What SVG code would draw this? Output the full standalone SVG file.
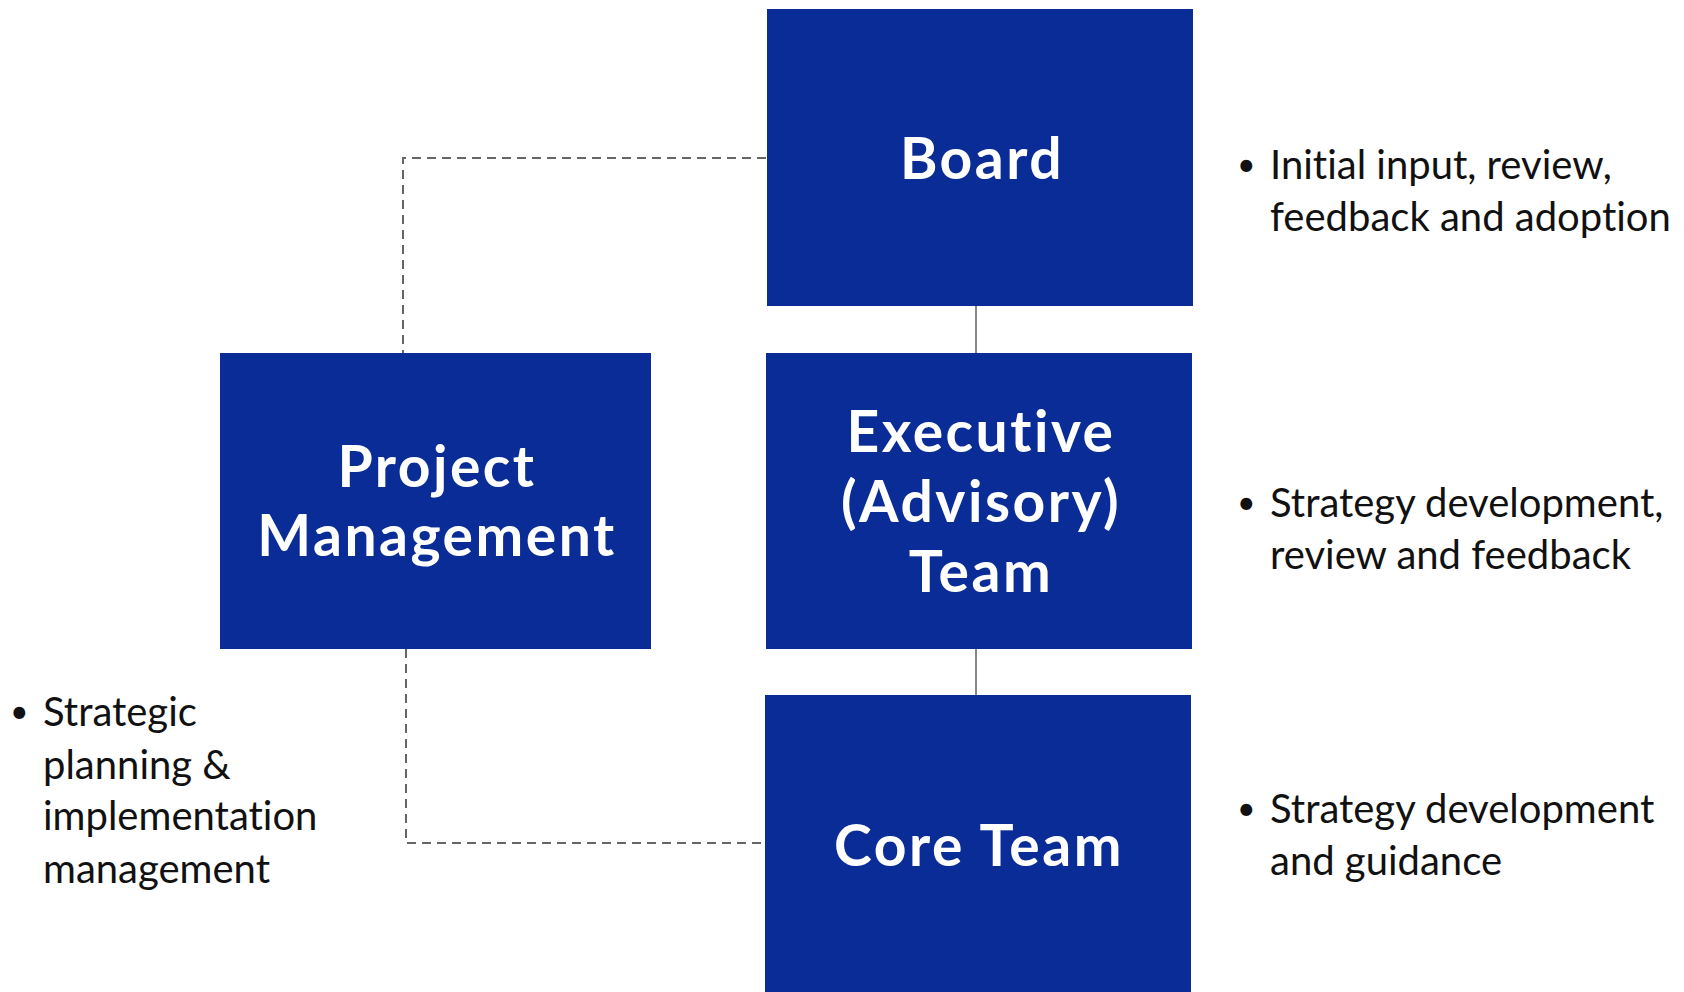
<svg xmlns="http://www.w3.org/2000/svg" width="1684" height="992" viewBox="0 0 1684 992">
<style>
.box{fill:#0a2c96}
.lbl{font-family:Lato,"Open Sans","Liberation Sans",sans-serif;font-weight:700;font-size:57px;letter-spacing:2.5px;fill:#fff;text-anchor:middle;font-variant-ligatures:none}
.txt{font-family:Lato,"Open Sans","Liberation Sans",sans-serif;font-size:40px;fill:#111;font-variant-ligatures:none}
.bul{font-family:Lato,"Open Sans","Liberation Sans",sans-serif;font-size:32px;fill:#111}
.dash{fill:none;stroke:#666;stroke-width:2;stroke-dasharray:9 6}
.solid{fill:none;stroke:#888;stroke-width:2}
</style>
<rect width="1684" height="992" fill="#fff"/>
<g id="connectors">
<polyline class="dash" points="766,158 403,158 403,353"/>
<polyline class="dash" points="406,649 406,843 762,843"/>
<line class="solid" x1="976" y1="306" x2="976" y2="353"/>
<line class="solid" x1="976" y1="649" x2="976" y2="695"/>
</g>
<g id="board">
<rect class="box" x="767" y="9" width="426" height="297"/>
<text class="lbl" x="982" y="179">Board</text>
</g>
<g id="project-management">
<rect class="box" x="220" y="353" width="431" height="296"/>
<text class="lbl" x="437" y="487">Project</text>
<text class="lbl" x="437" y="556">Management</text>
</g>
<g id="executive">
<rect class="box" x="766" y="353" width="426" height="296"/>
<text class="lbl" x="981" y="452">Executive</text>
<text class="lbl" x="981" y="522">(Advisory)</text>
<text class="lbl" x="981" y="592">Team</text>
</g>
<g id="core-team">
<rect class="box" x="765" y="695" width="426" height="297"/>
<text class="lbl" x="979" y="866">Core Team</text>
</g>
<g id="notes">
<text class="bul" x="1237" y="176">•</text>
<text class="txt" x="1270" y="179">Initial input, review,</text>
<text class="txt" x="1270" y="231">feedback and adoption</text>
<text class="bul" x="1237" y="514">•</text>
<text class="txt" x="1270" y="517">Strategy development,</text>
<text class="txt" x="1270" y="569">review and feedback</text>
<text class="bul" x="1237" y="820">•</text>
<text class="txt" x="1270" y="823">Strategy development</text>
<text class="txt" x="1270" y="875">and guidance</text>
<text class="bul" x="10" y="723">•</text>
<text class="txt" x="43" y="726">Strategic</text>
<text class="txt" x="43" y="779">planning &amp;</text>
<text class="txt" x="43" y="830">implementation</text>
<text class="txt" x="43" y="883">management</text>
</g>
</svg>
